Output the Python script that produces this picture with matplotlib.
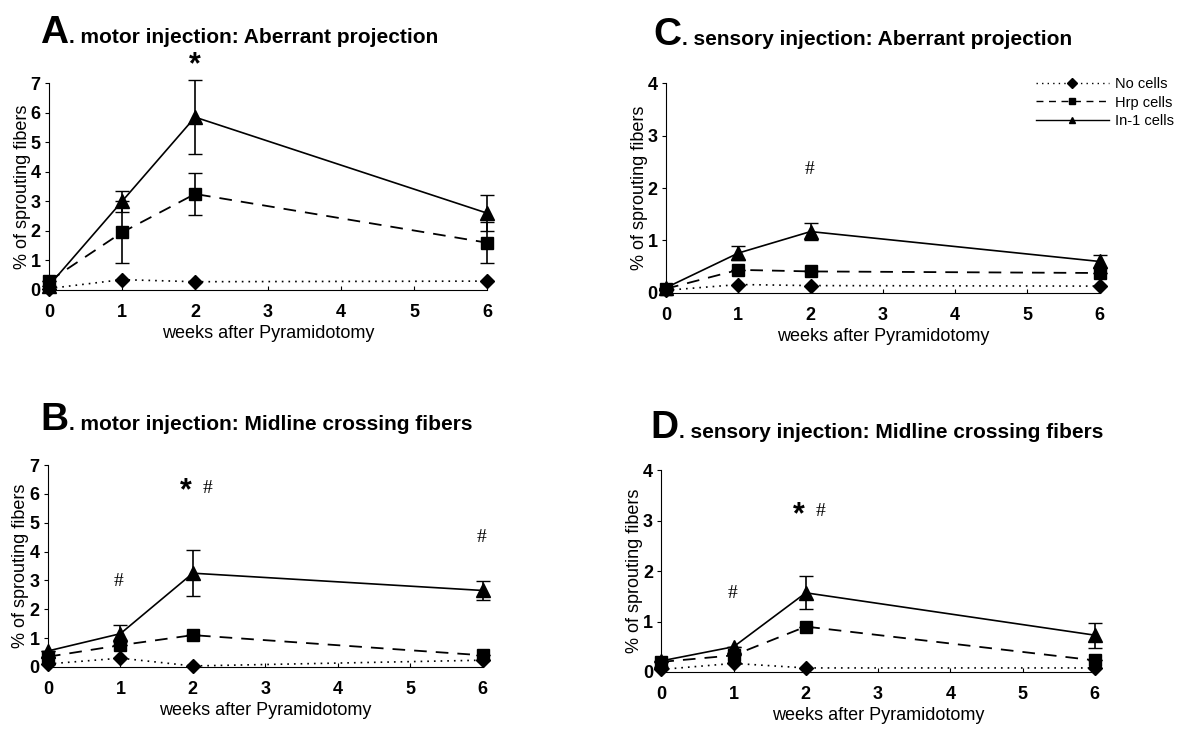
import numpy as np
import matplotlib
matplotlib.use('Agg')
import matplotlib.pyplot as plt

plt.rcParams['font.family'] = ['Liberation Sans', 'DejaVu Sans']

weeks = [0, 1, 2, 6]

# A. motor injection: aberrant projection
a_no = [0.05, 0.35, 0.28, 0.3]
a_hrp = [0.3, 1.95, 3.25, 1.6]
a_hrp_err = [0.0, 1.05, 0.7, 0.7]
a_in1 = [0.15, 3.0, 5.85, 2.6]
a_in1_err = [0.0, 0.35, 1.25, 0.62]

# B. motor injection: midline crossing fibers
b_no = [0.1, 0.3, 0.03, 0.23]
b_hrp = [0.35, 0.75, 1.1, 0.4]
b_hrp_err = [0.0, 0.0, 0.0, 0.0]
b_in1 = [0.55, 1.15, 3.25, 2.65]
b_in1_err = [0.0, 0.3, 0.8, 0.33]

# C. sensory injection: aberrant projection
c_no = [0.05, 0.16, 0.14, 0.13]
c_hrp = [0.08, 0.44, 0.41, 0.38]
c_hrp_err = [0.0, 0.0, 0.0, 0.0]
c_in1 = [0.1, 0.76, 1.17, 0.6]
c_in1_err = [0.0, 0.14, 0.16, 0.13]

# D. sensory injection: midline crossing fibers
d_no = [0.05, 0.17, 0.08, 0.08]
d_hrp = [0.2, 0.33, 0.9, 0.23]
d_hrp_err = [0.0, 0.0, 0.0, 0.0]
d_in1 = [0.22, 0.5, 1.57, 0.73]
d_in1_err = [0.0, 0.0, 0.33, 0.25]

panels = [
    ('A', '. motor injection: Aberrant projection', a_no, a_hrp, a_hrp_err, a_in1, a_in1_err, 7,
     [0.0415, 0.606, 0.371, 0.281], (40, 43)),
    ('B', '. motor injection: Midline crossing fibers', b_no, b_hrp, b_hrp_err, b_in1, b_in1_err, 7,
     [0.0406, 0.094, 0.368, 0.274], (40, 430)),
    ('C', '. sensory injection: Aberrant projection', c_no, c_hrp, c_hrp_err, c_in1, c_in1_err, 4,
     [0.564, 0.602, 0.367, 0.285], (653, 45)),
    ('D', '. sensory injection: Midline crossing fibers', d_no, d_hrp, d_hrp_err, d_in1, d_in1_err, 4,
     [0.560, 0.087, 0.367, 0.274], (650, 438)),
]

# significance marks (x, y, text) per panel
marks = {
    'A': [(2.0, 7.6, '*')],
    'B': [(1.9, 6.1, '*'), (2.2, 6.2, '#'), (0.97, 2.95, '#'), (5.98, 4.5, '#')],
    'C': [(1.99, 2.35, '#')],
    'D': [(1.9, 3.1, '*'), (2.2, 3.18, '#'), (0.98, 1.56, '#')],
}

W, H = 1181, 736
fig = plt.figure(figsize=(W / 100, H / 100), dpi=100)
renderer = fig.canvas.get_renderer()

for letter, title, no, hrp, hrp_err, in1, in1_err, ymax, pos, tpos in panels:
    ax = fig.add_axes(pos)
    ax.plot(weeks, no, linestyle=(0, (1, 3)), color='black', lw=1.2,
            marker='D', ms=7, clip_on=False, zorder=3)
    ax.errorbar(weeks, hrp, yerr=hrp_err, linestyle=(0, (7, 5)), color='black', lw=1.3,
                marker='s', ms=9, capsize=5, elinewidth=1.2, clip_on=False, zorder=4)
    ax.errorbar(weeks, in1, yerr=in1_err, linestyle='-', color='black', lw=1.2,
                marker='^', ms=10, capsize=5, elinewidth=1.2, clip_on=False, zorder=5)
    ax.set_xlim(0, 6)
    ax.set_ylim(0, ymax)
    ax.set_xticks(range(7))
    ax.set_yticks(range(ymax + 1))
    for lab in ax.get_xticklabels() + ax.get_yticklabels():
        lab.set_fontweight('bold')
        lab.set_fontsize(13)
    ax.tick_params(axis='x', direction='in', length=3, pad=10)
    ax.tick_params(axis='y', direction='out', length=3, pad=3)
    ax.spines['top'].set_visible(False)
    ax.spines['right'].set_visible(False)
    ax.set_xlabel('weeks after Pyramidotomy', fontsize=13, labelpad=3)
    ax.set_ylabel('% of sprouting fibers', fontsize=13, labelpad=0)
    for x, y, t in marks[letter]:
        if t == '*':
            ax.text(x, y, t, ha='center', va='center', fontsize=22, fontweight='bold',
                    clip_on=False)
        else:
            ax.text(x, y, t, ha='center', va='center', fontsize=14,
                    family=['Liberation Serif', 'DejaVu Serif'], clip_on=False)
    lt = fig.text(tpos[0] / W, 1 - tpos[1] / H, letter, fontsize=28, fontweight='bold',
                  ha='left', va='baseline')
    x1 = lt.get_window_extent(renderer).x1
    fig.text(x1 / W + 0.001, 1 - tpos[1] / H, title, fontsize=15, fontweight='bold',
             ha='left', va='baseline')
    if letter == 'C':
        handles = [
            plt.Line2D([], [], linestyle=(0, (1, 3)), color='black', marker='D', ms=5, lw=1),
            plt.Line2D([], [], linestyle=(0, (5, 4)), color='black', marker='s', ms=5, lw=1),
            plt.Line2D([], [], linestyle='-', color='black', marker='^', ms=5, lw=1),
        ]
        fig.legend(handles, ['No cells', 'Hrp cells', 'In-1 cells'], loc='upper right',
                   bbox_to_anchor=(1.0, 0.905), frameon=False, fontsize=10.5,
                   handlelength=5, labelspacing=0.3, borderaxespad=0.1, handletextpad=0.4)

fig.savefig('out.png', dpi=100)
